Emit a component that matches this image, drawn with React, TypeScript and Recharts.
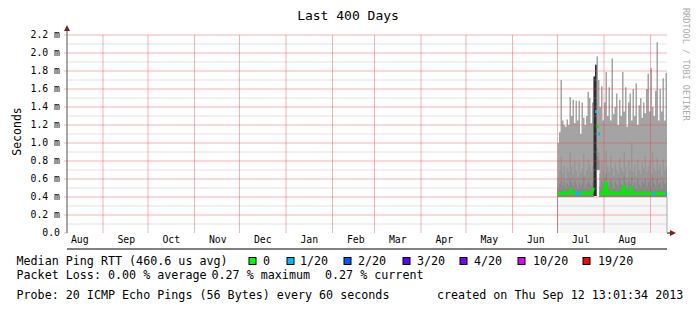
import React from 'react';
import { Area, ComposedChart, Customized, Line, ReferenceLine, XAxis, YAxis } from 'recharts';

// x = days since Aug 8 2012 (400 days to Sep 12 2013)
const firstDay = 327;
const monthStarts = [24, 54, 85, 115, 146, 177, 205, 236, 266, 297, 327, 358, 389];
const monthLabelDays = [8.5, 39.5, 69.5, 100.5, 130.5, 161.5, 192.5, 220.5, 251.5, 281.5, 312.5, 342.5, 373.5];
const monthNames = ['Aug', 'Sep', 'Oct', 'Nov', 'Dec', 'Jan', 'Feb', 'Mar', 'Apr', 'May', 'Jun', 'Jul', 'Aug'];
const yTicks = [0, 0.2, 0.4, 0.6, 0.8, 1.0, 1.2, 1.4, 1.6, 1.8, 2.0, 2.2];
const yMinor = [0.1, 0.3, 0.5, 0.7, 0.9, 1.1, 1.3, 1.5, 1.7, 1.9, 2.1];

// values in ms
const maxRtt = [
  1.0, 1.12, 1.7, 1.25, 1.2, 1.18, 1.26, 1.2, 1.51, 1.3,
  1.48, 1.22, 1.47, 1.25, 1.47, 1.1, 1.45, 1.28, 1.2, 1.3,
  1.57, 1.5, 1.22, 1.45, 1.74, 1.87, 1.96, 1.7, 1.4, 1.63,
  1.25, 1.45, 1.79, 1.3, 1.62, 1.25, 1.94, 1.32, 1.4, 1.55,
  1.2, 1.48, 1.3, 1.79, 1.35, 1.62, 1.18, 1.45, 1.55, 1.25,
  1.6, 1.3, 1.66, 1.2, 1.42, 1.5, 1.28, 1.45, 1.33, 1.6,
  1.77, 1.35, 1.83, 1.4, 1.3, 1.58, 2.12, 1.25, 1.6, 1.35,
  1.72, 1.25, 1.78, 1.55,
];
const minRtt = [
  0.4, 0.4, 0.4, 0.4, 0.4, 0.4, 0.4, 0.4, 0.4, 0.4,
  0.4, 0.4, 0.4, 0.4, 0.4, 0.4, 0.4, 0.4, 0.4, 0.4,
  0.4, 0.4, 0.4, 0.4, 0.41, 0.41, 0.7, 0.7, 0.4, 0.4,
  0.4, 0.4, 0.4, 0.4, 0.4, 0.4, 0.4, 0.4, 0.4, 0.4,
  0.4, 0.4, 0.4, 0.4, 0.4, 0.4, 0.4, 0.4, 0.4, 0.4,
  0.4, 0.4, 0.4, 0.4, 0.4, 0.4, 0.4, 0.4, 0.4, 0.4,
  0.4, 0.4, 0.4, 0.4, 0.4, 0.4, 0.4, 0.4, 0.4, 0.4,
  0.4, 0.4, 0.4, 0.4,
];
const p75Rtt = [
  0.62, 0.7, 0.85, 0.66, 0.75, 0.6, 0.72, 0.68, 0.9, 0.74,
  0.65, 0.8, 0.7, 0.62, 0.78, 0.66, 0.72, 0.88, 0.64, 0.7,
  0.82, 0.76, 0.68, 0.74, 0.95, 0.95, 0.95, 0.9, 0.66, 0.8,
  0.7, 0.62, 0.92, 0.74, 0.68, 0.86, 0.72, 0.64, 0.78, 0.7,
  0.66, 0.84, 0.72, 0.68, 0.9, 0.74, 0.62, 0.8, 0.7, 1.0,
  0.68, 0.76, 0.64, 0.82, 0.7, 0.66, 0.78, 0.72, 0.86, 0.68,
  0.74, 0.8, 0.66, 0.9, 0.72, 0.68, 0.84, 0.7, 0.76, 0.64,
  0.82, 0.7, 0.74, 0.68,
];
const p50Rtt = [
  0.5, 0.54, 0.58, 0.52, 0.56, 0.5, 0.55, 0.52, 0.6, 0.56,
  0.52, 0.58, 0.54, 0.5, 0.56, 0.52, 0.55, 0.62, 0.5, 0.54,
  0.58, 0.55, 0.52, 0.56, 0.64, 0.6, 0.85, 0.8, 0.52, 0.58,
  0.54, 0.5, 0.66, 0.56, 0.52, 0.6, 0.55, 0.5, 0.57, 0.54,
  0.52, 0.6, 0.55, 0.52, 0.64, 0.56, 0.5, 0.58, 0.54, 0.62,
  0.52, 0.56, 0.5, 0.6, 0.54, 0.52, 0.57, 0.55, 0.6, 0.52,
  0.56, 0.58, 0.52, 0.62, 0.55, 0.52, 0.6, 0.54, 0.56, 0.5,
  0.58, 0.54, 0.56, 0.52,
];
const medianRtt = [
  0.44, 0.44, 0.44, 0.44, 0.44, 0.45, 0.44, 0.44, 0.46, 0.48,
  0.45, 0.44, 0.44, 0.44, 0.44, 0.44, 0.44, 0.44, 0.45, 0.44,
  0.44, 0.44, 0.44, 0.46, 0.5, 1.35, 1.18, 1.1, 0.44, 0.44,
  0.44, 0.44, 0.57, 0.44, 0.44, 0.44, 0.46, 0.44, 0.44, 0.44,
  0.44, 0.44, 0.44, 0.44, 0.53, 0.44, 0.44, 0.44, 0.44, 0.49,
  0.44, 0.44, 0.44, 0.44, 0.44, 0.44, 0.44, 0.44, 0.45, 0.44,
  0.44, 0.44, 0.44, 0.44, 0.44, 0.44, 0.44, 0.44, 0.44, 0.44,
  0.44, 0.44, 0.44, 0.44,
];
// lost pings out of 20
const lossCount = [
  0, 0, 0, 0, 0, 0, 0, 0, 0, 0,
  0, 0, 1, 1, 1, 0, 0, 0, 0, 0,
  0, 0, 0, 0, 0, 1, 0, 1, 0, 0,
  0, 0, 0, 0, 0, 0, 0, 0, 0, 0,
  0, 0, 0, 0, 0, 0, 0, 0, 0, 0,
  0, 0, 0, 0, 0, 0, 0, 0, 0, 0,
  0, 0, 0, 1, 0, 0, 0, 0, 0, 0,
  0, 0, 1, 1,
];
// dark burst of high RTTs, and the days whose median is drawn as a lone dot
const burstTop: (number | null)[] = maxRtt.map(() => null);
burstTop[24] = 1.74;
burstTop[25] = 1.87;
const burstMedianIdx = [25, 26, 27];

const lossLegend = [
  { label: '0', color: '#00ff00', box: 249, text: 263 },
  { label: '1/20', color: '#00b8ff', box: 287, text: 300 },
  { label: '2/20', color: '#0059ff', box: 344, text: 358 },
  { label: '3/20', color: '#5e00ff', box: 403, text: 417 },
  { label: '4/20', color: '#7e00ff', box: 460, text: 474 },
  { label: '10/20', color: '#dd00ff', box: 518, text: 533 },
  { label: '19/20', color: '#ff0000', box: 583, text: 598 },
];

const rows = maxRtt.map((mx, i) => {
  const src = burstTop[i] != null ? i : i > 0 && burstTop[i - 1] != null ? i - 1 : -1;
  const lone = burstMedianIdx.includes(i);
  return {
    day: firstDay + i,
    base: [0, minRtt[i]],
    outer: [minRtt[i], mx],
    mid: [minRtt[i], p75Rtt[i]],
    inner: [minRtt[i], p50Rtt[i]],
    burst: src >= 0 ? [minRtt[src], burstTop[src]] : null,
    median: lone ? null : medianRtt[i],
    medianDot: lone ? medianRtt[i] : null,
    loss: lossCount[i],
    lossMark: lossCount[i] > 0 && !lone ? medianRtt[i] : null,
  };
});

const mono = 'DejaVu Sans Mono';
const majorStroke = 'rgba(224,64,64,0.4)';
const minorStroke = 'rgba(160,160,160,0.3)';

function PointMark(props: any) {
  const { cx, cy, value, index, payload } = props;
  if (cx == null || cy == null || value == null) return <g key={`p${index}`} />;
  const color = payload.loss > 0 ? '#00b8ff' : '#00ee00';
  return <rect key={`p${index}`} x={cx} y={cy - 1.5} width={2} height={3} fill={color} />;
}

function Decor() {
  return (
    <g fontFamily={mono} fill="#000">
      <text x={348} y={20} fontSize={13} textAnchor="middle">Last 400 Days</text>
      <text x={21} y={131.5} fontSize={11.5} textAnchor="middle" transform="rotate(-90 21 131.5)">Seconds</text>
      <text x={683} y={8} fontSize={8.5} fill="#aaa" transform="rotate(90 683 8)">RRDTOOL / TOBI OETIKER</text>
      <line x1={67} y1={35} x2={67} y2={29} stroke="#505050" />
      <polygon points="64,31 70,31 67,25" fill="#8b1a1a" />
      <line x1={667} y1={233} x2={671} y2={233} stroke="#000" />
      <polygon points="670,230 670,236 676,233" fill="#8b1a1a" />
      <g fontSize={11.7} style={{ whiteSpace: 'pre' }}>
        <text x={16.5} y={265}>Median Ping RTT (460.6 us avg)</text>
        {lossLegend.map((l) => (
          <g key={l.label}>
            <rect x={l.box} y={257.5} width={7} height={7} fill={l.color} stroke="#000" strokeWidth={1} />
            <text x={l.text} y={265}>{l.label}</text>
          </g>
        ))}
        <text x={16.5} y={279}>Packet Loss: 0.00 % average</text>
        <text x={211.5} y={279}>0.27 % maximum</text>
        <text x={325} y={279}>0.27 % current</text>
        <text x={16.5} y={299}>Probe: 20 ICMP Echo Pings (56 Bytes) every 60 seconds</text>
        <text x={437} y={299}>created on Thu Sep 12 13:01:34 2013</text>
      </g>
    </g>
  );
}

export default function App() {
  return (
    <div style={{ position: 'absolute', left: 0, top: 0, background: '#fff' }}>
      <ComposedChart width={697} height={313} data={rows} margin={{ top: 35, right: 30, bottom: 60, left: 0 }}>
        <XAxis
          xAxisId="m"
          type="number"
          dataKey="day"
          domain={[0, 400]}
          allowDataOverflow
          ticks={monthStarts}
          tick={false}
          tickSize={3}
          height={4}
          axisLine={{ stroke: '#000' }}
          tickLine={{ stroke: majorStroke }}
        />
        <XAxis
          xAxisId="lbl"
          type="number"
          dataKey="day"
          domain={[0, 400]}
          allowDataOverflow
          ticks={monthLabelDays}
          tickFormatter={(_v: number, i: number) => monthNames[i]}
          tick={{ fontSize: 9.8, fontFamily: mono, fill: '#000' }}
          axisLine={false}
          tickLine={false}
          tickSize={0}
          tickMargin={3}
          height={16}
          interval={0}
        />
        <YAxis
          type="number"
          domain={[0, 2.2]}
          allowDataOverflow
          ticks={yTicks}
          interval={0}
          width={67}
          tickSize={3}
          tickMargin={4}
          tickFormatter={(v: number) => (v === 0 ? '0.0' : `${v.toFixed(1)} m`)}
          tick={{ fontSize: 9.8, fontFamily: mono, fill: '#000' }}
          axisLine={{ stroke: '#505050' }}
          tickLine={{ stroke: majorStroke }}
        />
        <Area xAxisId="m" dataKey="base" type="stepAfter" stroke="none" fill="#eeeeee" fillOpacity={0.5} isAnimationActive={false} dot={false} activeDot={false} />
        <Area xAxisId="m" dataKey="outer" type="stepAfter" stroke="none" fill="#a4a4a4" fillOpacity={1} isAnimationActive={false} dot={false} activeDot={false} />
        <Area xAxisId="m" dataKey="mid" type="stepAfter" stroke="none" fill="#979797" fillOpacity={1} isAnimationActive={false} dot={false} activeDot={false} />
        <Area xAxisId="m" dataKey="inner" type="stepAfter" stroke="none" fill="#888888" fillOpacity={1} isAnimationActive={false} dot={false} activeDot={false} />
        <Area xAxisId="m" dataKey="burst" type="stepAfter" stroke="none" fill="#2e2e2e" fillOpacity={1} isAnimationActive={false} dot={false} activeDot={false} />
        <ReferenceLine xAxisId="m" segment={[{ x: firstDay, y: 0 }, { x: firstDay, y: minRtt[0] }]} stroke="#aaaaaa" />
        <ReferenceLine xAxisId="m" segment={[{ x: firstDay + maxRtt.length - 1, y: 0 }, { x: firstDay + maxRtt.length - 1, y: minRtt[minRtt.length - 1] }]} stroke="#aaaaaa" />
        {yMinor.map((v) => (
          <ReferenceLine key={`n${v}`} xAxisId="m" y={v} stroke={minorStroke} />
        ))}
        {yTicks.slice(1).map((v) => (
          <ReferenceLine key={`y${v}`} xAxisId="m" y={v} stroke={majorStroke} />
        ))}
        {monthStarts.map((d) => (
          <ReferenceLine key={`x${d}`} xAxisId="m" x={d} stroke={majorStroke} />
        ))}
        <Line xAxisId="m" dataKey="median" type="linear" stroke="#00ee00" strokeWidth={3} dot={false} activeDot={false} isAnimationActive={false} />
        <Line xAxisId="m" dataKey="medianDot" stroke="none" dot={PointMark} activeDot={false} isAnimationActive={false} />
        <Line xAxisId="m" dataKey="lossMark" stroke="none" dot={PointMark} activeDot={false} isAnimationActive={false} />
        <Customized component={<Decor />} />
      </ComposedChart>
    </div>
  );
}
